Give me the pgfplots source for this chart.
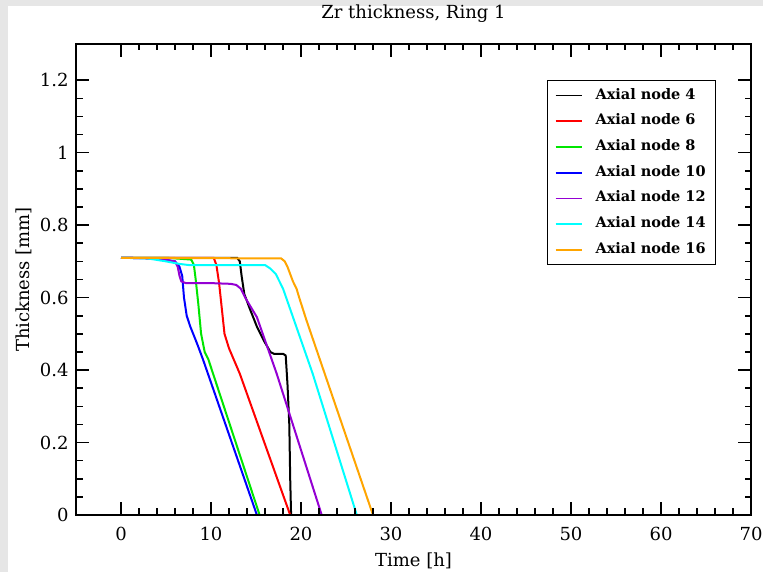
\documentclass[border=0pt]{standalone}
\usepackage{pgfplots}
\pgfplotsset{compat=1.18}
\usepackage{fontspec}
\setmainfont{DejaVu Serif}
\definecolor{bggray}{HTML}{E6E6E6}
\definecolor{cgreen}{RGB}{0,230,0}
\definecolor{cpurple}{RGB}{148,0,211}
\definecolor{corange}{RGB}{255,165,0}
\definecolor{ccyan}{RGB}{0,255,255}
\begin{document}
\begin{tikzpicture}[x=1pt,y=1pt]
\fill[bggray] (0,0) rectangle (763,572);
\fill[white] (8,0) rectangle (763,566);
\begin{axis}[
  at={(76pt,57pt)}, anchor=south west,
  scale only axis, width=675pt, height=471pt,
  xmin=-5, xmax=70, ymin=0, ymax=1.3,
  xtick={0,10,...,70}, minor x tick num=4,
  ytick={0,0.2,0.4,0.6,0.8,1,1.2}, minor y tick num=3,
  /pgf/number format/assume math mode=true,
  major tick length=13pt, minor tick length=6.5pt,
  every tick/.style={line width=1.6pt, black},
  axis line style={line width=2pt},
  axis on top,
  yticklabel style={font=\fontsize{18}{18}\selectfont, anchor=east, xshift=-4pt},
  xticklabel style={font=\fontsize{18}{18}\selectfont, anchor=base, yshift=-26pt},
  title={Zr thickness, Ring 1},
  title style={font=\fontsize{18}{18}\selectfont, at={(axis description cs:0.5,1)}, anchor=base, yshift=19pt},
  xlabel={Time [h]},
  xlabel style={font=\fontsize{18}{18}\selectfont, at={(axis description cs:0.5,0)}, anchor=base, yshift=-52pt},
  ylabel={Thickness [mm]},
  ylabel style={font=\fontsize{18}{18}\selectfont, at={(axis description cs:0,0.5)}, anchor=base, yshift=47pt},
  legend cell align=left,
  legend image code/.code={\draw[#1, line width=1.7pt] (0pt,0pt) -- (26pt,0pt);},
  legend style={at={(0.698,0.9236)}, anchor=north west, draw=black, line width=1.3pt,
    font=\bfseries\fontsize{14.5}{14.5}\selectfont,
    inner xsep=7pt, inner ysep=5.5pt, row sep=6.7pt,
    nodes={inner sep=3pt, text height=10pt, text depth=3pt},
    /tikz/every odd column/.append style={column sep=10pt}},
  every axis plot/.append style={line width=2pt},
]
\addplot[black] coordinates {(0,0.71) (12.9,0.71) (13.2,0.70) (13.4,0.66) (13.7,0.61) (14.3,0.57) (15.1,0.52) (15.9,0.48) (16.6,0.45) (17.0,0.445) (18.0,0.445) (18.3,0.44) (18.5,0.36) (18.7,0.25) (18.8,0.1) (18.9,0.0)};
\addlegendentry{Axial node 4}
\addplot[red] coordinates {(0,0.71) (10.3,0.71) (10.6,0.69) (10.9,0.64) (11.2,0.57) (11.5,0.50) (12.0,0.46) (13.2,0.39) (18.8,0.0)};
\addlegendentry{Axial node 6}
\addplot[cgreen] coordinates {(0,0.71) (5,0.71) (7.8,0.705) (8.1,0.69) (8.3,0.65) (8.6,0.58) (8.9,0.50) (9.3,0.45) (9.7,0.43) (15.4,0.0)};
\addlegendentry{Axial node 8}
\addplot[blue] coordinates {(0,0.71) (4,0.708) (6.0,0.70) (6.5,0.685) (6.8,0.66) (7.0,0.60) (7.3,0.55) (7.7,0.52) (8.5,0.47) (9.1,0.43) (15.1,0.0)};
\addlegendentry{Axial node 10}
\addplot[cpurple] coordinates {(0,0.71) (4,0.708) (6.0,0.70) (6.3,0.685) (6.5,0.66) (6.7,0.645) (7.2,0.64) (10,0.64) (12.2,0.638) (12.8,0.635) (13.3,0.625) (13.8,0.60) (15.1,0.546) (17.3,0.39) (22.3,0.0)};
\addlegendentry{Axial node 12}
\addplot[ccyan] coordinates {(0,0.71) (3,0.708) (5,0.70) (6.5,0.693) (7.5,0.69) (16.0,0.69) (16.6,0.68) (17.2,0.665) (17.6,0.645) (18.0,0.625) (21.3,0.39) (26.2,0.0)};
\addlegendentry{Axial node 14}
\addplot[corange] coordinates {(0,0.71) (17.8,0.708) (18.2,0.70) (18.5,0.685) (18.8,0.665) (19.1,0.645) (19.5,0.625) (19.8,0.60) (20.6,0.538) (28.0,0.0)};
\addlegendentry{Axial node 16\hspace{6pt}}
\end{axis}
\pgfresetboundingbox
\path[use as bounding box] (0,0) rectangle (763,572);
\end{tikzpicture}
\end{document}
